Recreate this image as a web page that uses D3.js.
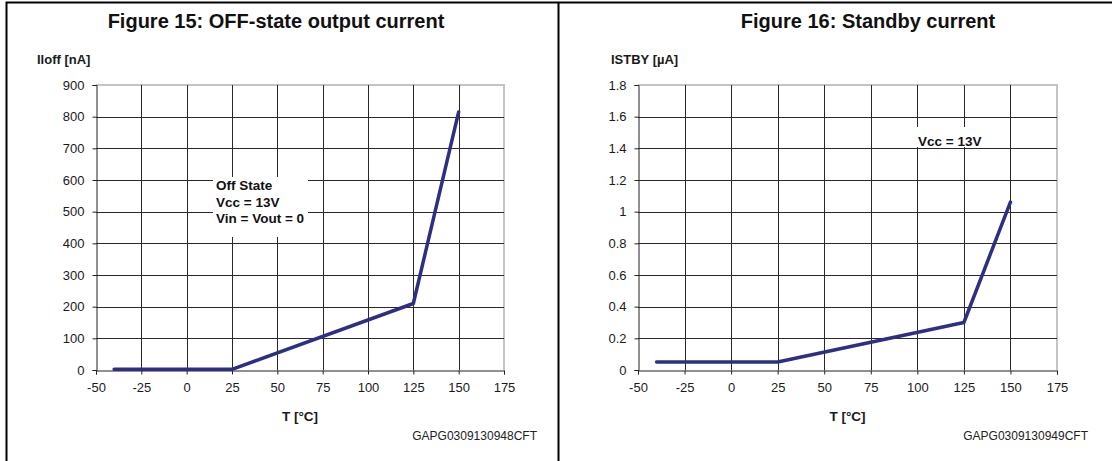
<!DOCTYPE html>
<html>
<head>
<meta charset="utf-8">
<script src="https://cdn.jsdelivr.net/npm/d3@7"></script>
<style>
  body { margin: 0; background: #fff; }
  svg { display: block; font-family: "Liberation Sans", Arial, sans-serif; }
</style>
</head>
<body>
<div id="main"></div>
<script>
///////////
// DATA  //
///////////

const tempTicks = [-50, -25, 0, 25, 50, 75, 100, 125, 150, 175]

// figure 15 : OFF-state output current
const offTemp = [-40, 25, 125, 150]
const offCurrent = [2, 2, 210, 815]
const offTicks = [0, 100, 200, 300, 400, 500, 600, 700, 800, 900]
const offNote = ["Off State", "Vcc = 13V", "Vin = Vout = 0"]

// figure 16 : standby current
const stbyTemp = [-40, 25, 125, 150]
const stbyCurrent = [0.05, 0.05, 0.30, 1.06]
const stbyTicks = [0, 0.2, 0.4, 0.6, 0.8, 1, 1.2, 1.4, 1.6, 1.8]
const stbyNote = ["Vcc = 13V"]

///////////
// SETUP //
///////////

const width = 1112
const height = 461

const lineColor = '#2e2f82'
const gridColor = '#2a2a2a'
const frameGray = '#c4c4c4'
const textColor = '#1a1a1a'

// plain hyphen for negatives, like the source sheet
const fmt = d => String(+d.toFixed(2))

let svg = d3.select("#main").append("svg")
    .attr("width", width)
    .attr("height", height)

// outer table frame
svg.append("path")
    .attr("d", "M6.5,461V2.5H1112 M558.5,2.5V461")
    .attr("fill", "none")
    .attr("stroke", "#000")
    .attr("stroke-width", 2)

const panels = [
    {
        title: "Figure 15: OFF-state output current", titleX: 276,
        yLabel: "Iloff [nA]", yLabelX: 37,
        code: "GAPG0309130948CFT", codeX: 537,
        left: 96, right: 504,
        temp: offTemp, values: offCurrent, ticks: offTicks,
        note: offNote, noteBox: [213, 177, 95, 60], noteX: 216, noteY: 190
    },
    {
        title: "Figure 16: Standby current", titleX: 868,
        yLabel: "ISTBY [µA]", yLabelX: 611,
        code: "GAPG0309130949CFT", codeX: 1088,
        left: 638, right: 1057,
        temp: stbyTemp, values: stbyCurrent, ticks: stbyTicks,
        note: stbyNote, noteBox: [912, 127, 80, 20], noteX: 918, noteY: 146
    }
]

const plotTop = 85, plotBottom = 370

//////////
// DRAW //
//////////

panels.forEach(draw_panel)

function draw_panel(p){
    let x = d3.scaleLinear()
        .domain([tempTicks[0], tempTicks[tempTicks.length - 1]])
        .range([p.left, p.right])
    let y = d3.scaleLinear()
        .domain([p.ticks[0], p.ticks[p.ticks.length - 1]])
        .range([plotBottom, plotTop])

    let g = svg.append("g")

    // title
    g.append("text")
        .attr("x", p.titleX).attr("y", 28)
        .attr("text-anchor", "middle")
        .attr("font-size", 20).attr("font-weight", "bold")
        .attr("fill", "#111")
        .text(p.title)

    // y label
    g.append("text")
        .attr("x", p.yLabelX).attr("y", 64)
        .attr("font-size", 13).attr("font-weight", "bold")
        .attr("fill", textColor)
        .text(p.yLabel)

    // plot frame (grey top / right)
    g.append("path")
        .attr("d", `M${p.left},${plotTop}H${p.right}V${plotBottom}`)
        .attr("fill", "none")
        .attr("stroke", frameGray)
        .attr("stroke-width", 2)

    // grid
    g.append("g")
        .selectAll("line.hgrid")
        .data(p.ticks.slice(1, -1))
        .enter().append("line")
            .attr("x1", p.left).attr("x2", p.right)
            .attr("y1", d => Math.round(y(d)) + 0.5)
            .attr("y2", d => Math.round(y(d)) + 0.5)
            .attr("stroke", gridColor)
    g.append("g")
        .selectAll("line.vgrid")
        .data(tempTicks.slice(1, -1))
        .enter().append("line")
            .attr("y1", plotTop).attr("y2", plotBottom)
            .attr("x1", d => Math.round(x(d)) + 0.5)
            .attr("x2", d => Math.round(x(d)) + 0.5)
            .attr("stroke", gridColor)

    // note box
    let [bx, by, bw, bh] = p.noteBox
    g.append("rect")
        .attr("x", bx).attr("y", by)
        .attr("width", bw).attr("height", bh)
        .attr("fill", "#fff")
    g.append("g").selectAll("text")
        .data(p.note)
        .enter().append("text")
            .attr("x", p.noteX)
            .attr("y", (d, i) => p.noteY + i * 16.5)
            .attr("font-size", 13.5).attr("font-weight", "bold")
            .attr("fill", "#111")
            .text(d => d)

    // axes
    let yAxis = d3.axisLeft(y)
        .tickValues(p.ticks)
        .tickFormat(fmt)
        .tickSize(4)
        .tickPadding(8)
    let xAxis = d3.axisBottom(x)
        .tickValues(tempTicks)
        .tickFormat(fmt)
        .tickSize(4)
        .tickPadding(8.5)

    let ya = g.append("g")
        .attr("transform", `translate(${Math.round(p.left) + 0.5},0)`)
        .call(yAxis)
    let xa = g.append("g")
        .attr("transform", `translate(0,${plotBottom + 0.5})`)
        .call(xAxis)

    ;[ya, xa].forEach(a => {
        a.attr("font-family", null).attr("font-size", 13)
        a.select(".domain").attr("stroke", "#222")
        a.selectAll(".tick line").attr("stroke", "#222")
        a.selectAll(".tick text").attr("fill", textColor)
    })

    // x label
    g.append("text")
        .attr("x", (p.left + p.right) / 2).attr("y", 421)
        .attr("text-anchor", "middle")
        .attr("font-size", 13.5).attr("font-weight", "bold")
        .attr("fill", textColor)
        .text("T [°C]")

    // code
    g.append("text")
        .attr("x", p.codeX).attr("y", 440)
        .attr("text-anchor", "end")
        .attr("font-size", 12)
        .attr("fill", "#222")
        .text(p.code)

    // data line
    let line = d3.line()
        .x((d, i) => x(p.temp[i]))
        .y(d => y(d))
    g.append("path")
        .datum(p.values)
        .attr("d", line)
        .attr("fill", "none")
        .attr("stroke", lineColor)
        .attr("stroke-width", 3.5)
        .attr("stroke-linecap", "round")
        .attr("stroke-linejoin", "round")
}
</script>
</body>
</html>
